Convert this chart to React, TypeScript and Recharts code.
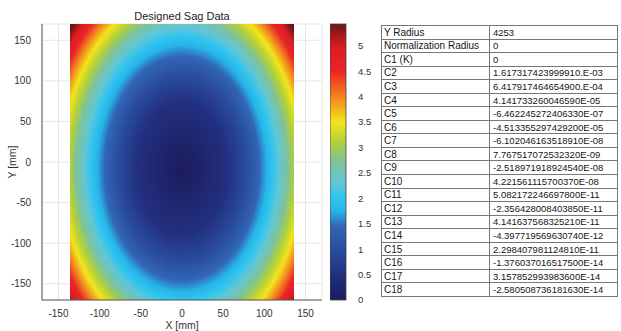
import React from "react"
import {
  CartesianGrid,
  ComposedChart,
  ReferenceArea,
  Scatter,
  ScatterChart,
  XAxis,
  YAxis,
} from "recharts"

const xTicks = [-150, -100, -50, 0, 50, 100, 150]
const yTicks = [-150, -100, -50, 0, 50, 100, 150]

// sag contour levels and where each one crosses the centre lines (mm)
const sagLevels = [0, 0.5, 1.0, 1.45, 1.75, 2.0, 2.3, 2.7, 3.1, 3.5, 4.0, 4.5, 5.0, 5.43]
const sagHalfWidthX = [0, 55, 78, 94, 103, 110, 118, 128, 137, 146, 155, 163, 171, 178]
const sagHalfHeightY = [0, 81, 115, 138, 151, 162, 173, 188, 201, 215, 228, 240, 252, 262]
const sagCentre = { x: 0, y: -8 }
const dataX = [-136, 136]
const dataY = [-170, 170]

// colour map
const cmapValues = [0, 0.5, 1.0, 1.45, 1.75, 2.0, 2.3, 2.7, 3.1, 3.5, 4.0, 4.5, 5.0, 5.43]
const cmapColors = [
  "#1b1c5c", "#222f80", "#2a4c9e", "#3266b6", "#27b4e8", "#2ec4ef", "#62c6d6",
  "#7cc39a", "#b3cf3a", "#f2e51b", "#f3831f", "#ea2627", "#d81d21", "#6d1512",
]
const cbarTicks = [0, 0.5, 1, 1.5, 2, 2.5, 3, 3.5, 4, 4.5, 5]
const cbarMax = 5.43

const tableLabels = [
  "Y Radius", "Normalization Radius", "C1 (K)", "C2", "C3", "C4", "C5", "C6", "C7", "C8",
  "C9", "C10", "C11", "C12", "C13", "C14", "C15", "C16", "C17", "C18",
]
const tableValues = [
  "4253", "0", "0",
  "1.617317423999910.E-03",
  "6.417917464654900.E-04",
  "4.141733260046590E-05",
  "-6.462245272406330E-07",
  "-4.513355297429200E-05",
  "-6.102046163518910E-08",
  "7.767517072532320E-09",
  "-2.518971918924540E-08",
  "4.221561115700370E-08",
  "5.082172246697800E-11",
  "-2.356428008403850E-11",
  "4.141637568325210E-11",
  "-4.397719569630740E-12",
  "2.298407981124810E-11",
  "-1.376037016517500E-14",
  "3.157852993983600E-14",
  "-2.580508736181630E-14",
]

const font = "'Liberation Sans', Arial, sans-serif"
const tickStyle = { fill: "#333", fontSize: 10, fontFamily: font }

function hexToRgb(h: string) {
  return [1, 3, 5].map((i) => parseInt(h.slice(i, i + 2), 16))
}

function colorAt(v: number) {
  for (let i = 1; i < cmapValues.length; i++) {
    if (v <= cmapValues[i]) {
      const t = (v - cmapValues[i - 1]) / (cmapValues[i] - cmapValues[i - 1])
      const a = hexToRgb(cmapColors[i - 1])
      const b = hexToRgb(cmapColors[i])
      const c = a.map((x, k) => Math.round(x + (b[k] - x) * t))
      return `rgb(${c[0]},${c[1]},${c[2]})`
    }
  }
  return cmapColors[cmapColors.length - 1]
}

const last = sagLevels.length - 1

function SagGradient(p: any) {
  const cx = p.x + p.width / 2
  const cy = p.y + p.height / 2
  const r = p.width / 2
  return (
    <defs>
      <radialGradient
        id="sagGrad"
        gradientUnits="userSpaceOnUse"
        cx={cx}
        cy={cy}
        r={r}
        gradientTransform={`translate(${cx} ${cy}) scale(1 ${p.height / p.width}) translate(${-cx} ${-cy})`}
      >
        {sagLevels.map((l, i) => (
          <stop key={i} offset={sagHalfWidthX[i] / sagHalfWidthX[last]} stopColor={colorAt(l)} />
        ))}
      </radialGradient>
    </defs>
  )
}

function SagField(p: any) {
  return <rect x={p.x} y={p.y} width={p.width} height={p.height} fill="url(#sagGrad)" />
}

function ColorBar(p: any) {
  return (
    <g>
      <defs>
        <linearGradient id="cbarGrad" x1="0" y1="1" x2="0" y2="0">
          {cmapValues.map((v, i) => (
            <stop key={i} offset={v / cbarMax} stopColor={cmapColors[i]} />
          ))}
        </linearGradient>
      </defs>
      <rect x={p.x} y={p.y} width={p.width} height={p.height} fill="url(#cbarGrad)" stroke="#444" strokeWidth={0.8} />
    </g>
  )
}

export default function App() {
  return (
    <div style={{ position: "absolute", left: 0, top: 0, width: 621, height: 331, background: "#fff" }}>
      <div
        style={{
          position: "absolute", left: 42, top: 10, width: 280, textAlign: "center",
          fontFamily: font, fontSize: 11, lineHeight: "13px", color: "#222",
        }}
      >
        Designed Sag Data
      </div>
      <div style={{ position: "absolute", left: 0, top: 0 }}>
        <ScatterChart width={330} height={331} margin={{ top: 24, right: 8, bottom: 0, left: 0 }}>
          <CartesianGrid stroke="#e6e6e6" />
          <XAxis
            type="number"
            dataKey="x"
            domain={[-170, 170]}
            ticks={xTicks}
            allowDataOverflow
            height={31}
            tickLine={false}
            tickMargin={4}
            axisLine={{ stroke: "#555" }}
            tick={tickStyle}
            label={{ value: "X [mm]", position: "insideBottom", offset: 2, style: { fill: "#333", fontSize: 10.5, fontFamily: font } }}
          />
          <YAxis
            type="number"
            dataKey="y"
            domain={[-170, 170]}
            ticks={yTicks}
            allowDataOverflow
            width={42}
            tickLine={false}
            tickMargin={5}
            axisLine={{ stroke: "#555" }}
            tick={tickStyle}
            label={{
              value: "Y [mm]", angle: -90, position: "insideLeft", offset: 12,
              style: { textAnchor: "middle", fill: "#333", fontSize: 10.5, fontFamily: font },
            }}
          />
          <ReferenceArea
            x1={sagCentre.x - sagHalfWidthX[last]}
            x2={sagCentre.x + sagHalfWidthX[last]}
            y1={sagCentre.y - sagHalfHeightY[last]}
            y2={sagCentre.y + sagHalfHeightY[last]}
            ifOverflow="visible"
            shape={SagGradient}
          />
          <ReferenceArea x1={dataX[0]} x2={dataX[1]} y1={dataY[0]} y2={dataY[1]} ifOverflow="visible" shape={SagField} />
          <Scatter data={[sagCentre]} isAnimationActive={false} shape={() => <g />} />
        </ScatterChart>
      </div>
      <div style={{ position: "absolute", left: 330, top: 0 }}>
        <ComposedChart
          width={50}
          height={331}
          data={[{ x: 0.5, y: 0 }]}
          margin={{ top: 24, right: 0, bottom: 31, left: 0 }}
        >
          <XAxis type="number" dataKey="x" hide domain={[0, 1]} />
          <YAxis
            type="number"
            orientation="right"
            domain={[0, cbarMax]}
            ticks={cbarTicks}
            allowDataOverflow
            width={34}
            axisLine={false}
            tickLine={false}
            tickMargin={6}
            tick={{ ...tickStyle, fontSize: 9.5 }}
          />
          <ReferenceArea y1={0} y2={cbarMax} ifOverflow="visible" shape={ColorBar} />
          <Scatter dataKey="y" isAnimationActive={false} shape={() => <g />} />
        </ComposedChart>
      </div>
      <table
        style={{
          position: "absolute", left: 381, top: 25, width: 236, borderCollapse: "collapse",
          tableLayout: "fixed", fontFamily: font, fontSize: 9.5, color: "#151515",
          border: "1px solid #555",
        }}
      >
        <colgroup>
          <col style={{ width: 108 }} />
          <col style={{ width: 128 }} />
        </colgroup>
        <tbody>
          {tableLabels.map((l, i) => (
            <tr key={l} style={{ height: 13.55 }}>
              <td style={{ border: "1px solid #777", padding: "0 2px", fontSize: 10, lineHeight: "11px", whiteSpace: "nowrap", overflow: "hidden" }}>{l}</td>
              <td style={{ border: "1px solid #777", padding: "0 3px", lineHeight: "11px", whiteSpace: "nowrap", overflow: "hidden" }}>{tableValues[i]}</td>
            </tr>
          ))}
        </tbody>
      </table>
    </div>
  )
}
